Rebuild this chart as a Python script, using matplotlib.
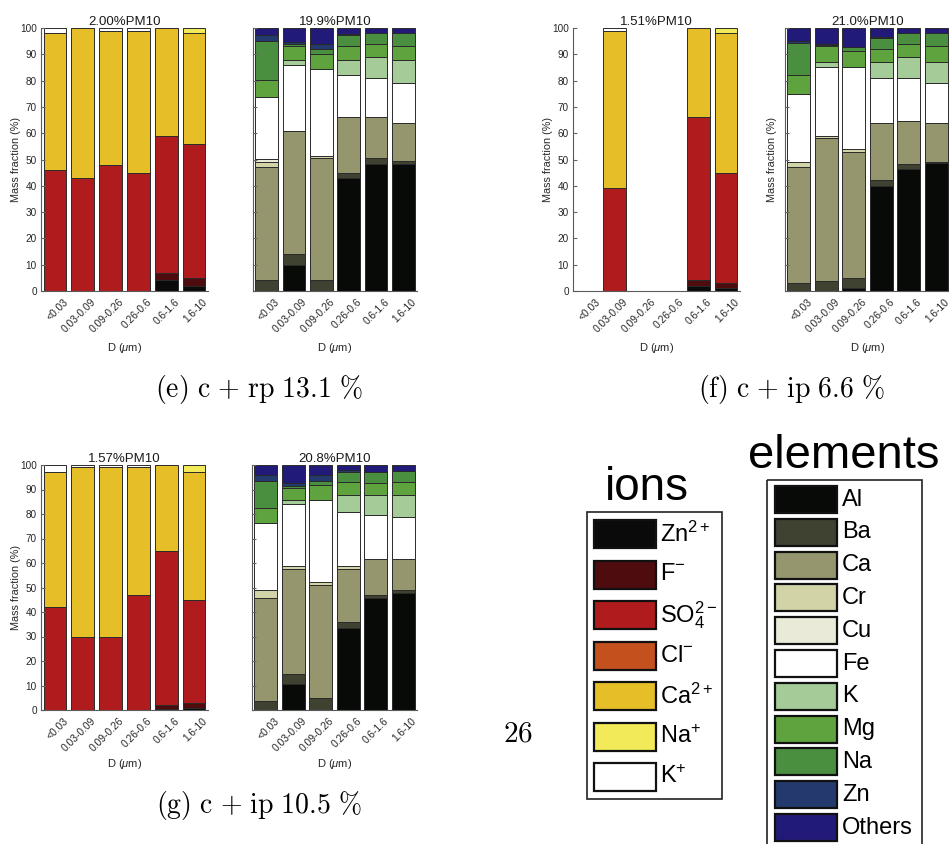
import numpy as np
import matplotlib
matplotlib.use('Agg')
import matplotlib.pyplot as plt
from matplotlib.patches import Rectangle
from matplotlib.transforms import ScaledTranslation

plt.rcParams['font.family'] = ['Liberation Sans', 'DejaVu Sans']
plt.rcParams['mathtext.fontset'] = 'custom'
plt.rcParams['mathtext.rm'] = 'Liberation Sans'
plt.rcParams['mathtext.it'] = 'Liberation Sans:italic'
plt.rcParams['mathtext.bf'] = 'Liberation Sans:bold'

W, H, DPI = 949, 844, 100

size_bins = ['<0.03', '0.03-0.09', '0.09-0.26', '0.26-0.6', '0.6-1.6', '1.6-10']

ion_names = ['Zn$^{2+}$', 'F$^{-}$', 'SO$_4^{2-}$', 'Cl$^{-}$', 'Ca$^{2+}$', 'Na$^{+}$', 'K$^{+}$']
ion_colors = ['#0a0a0a', '#4e0c0e', '#b01c1e', '#c4501e', '#e6bf28', '#f2ea58', '#ffffff']

element_names = ['Al', 'Ba', 'Ca', 'Cr', 'Cu', 'Fe', 'K', 'Mg', 'Na', 'Zn', 'Others']
element_colors = ['#080a08', '#3f4131', '#95966e', '#d2d4a8', '#e9ebd8', '#ffffff',
                  '#a4cb98', '#5ea33d', '#4a8f3f', '#243a6e', '#221a78']

# rows = species (bottom -> top), columns = size bins, mass fraction in %
ions_e = [
    [0, 0, 0, 0, 4, 2],
    [0, 0, 0, 0, 3, 3],
    [46, 43, 48, 45, 52, 51],
    [0, 0, 0, 0, 0, 0],
    [52, 57, 51, 54, 41, 42],
    [0, 0, 0, 0, 0, 2],
    [2, 0, 1, 1, 0, 0],
]
elements_e = [
    [0, 10, 0, 43, 48.4, 48.4],
    [4, 4, 4, 2, 2, 1],
    [43, 47, 46.5, 21, 15.8, 14.6],
    [2, 0, 0.8, 0, 0, 0],
    [1.3, 0, 0, 0, 0, 0],
    [23.5, 25, 33, 16, 14.8, 14.9],
    [0, 1.7, 0, 6, 8, 9.1],
    [6.3, 5.3, 6, 5.3, 5, 5.3],
    [14.8, 1, 1.6, 4, 4.2, 4.8],
    [2.3, 0.5, 2.1, 0.3, 0, 0],
    [2.8, 5.5, 6, 2.4, 1.8, 1.9],
]
ions_f = [
    [0, 0, 0, 0, 2, 1],
    [0, 0, 0, 0, 2, 2],
    [0, 39, 0, 0, 62, 42],
    [0, 0, 0, 0, 0, 0],
    [0, 60, 0, 0, 34, 53],
    [0, 0, 0, 0, 0, 2],
    [0, 1, 0, 0, 0, 0],
]
elements_f = [
    [0, 0, 1, 40, 46.2, 48.5],
    [3, 3.8, 3.8, 2.2, 1.9, 0.7],
    [44, 54.2, 48, 21.8, 16.6, 14.8],
    [2, 1, 1.3, 0, 0, 0],
    [0, 0, 0, 0, 0, 0],
    [26, 26.2, 31, 17.1, 16.3, 15.1],
    [0, 1.9, 0, 6, 8, 8],
    [7.2, 5.9, 6.3, 5.1, 5, 6.1],
    [12, 0.7, 1.5, 4, 4.1, 4.9],
    [1, 0.3, 0, 0.3, 0, 0],
    [4.8, 6, 7.1, 3.5, 1.9, 1.9],
]
ions_g = [
    [0, 0, 0, 0, 0.5, 1],
    [0, 0, 0, 0, 1.5, 2],
    [42, 30, 30, 47, 63, 42],
    [0, 0, 0, 0, 0, 0],
    [55, 69, 69, 52, 35, 52],
    [0, 0, 0, 0, 0, 3],
    [3, 1, 1, 1, 0, 0],
]
elements_g = [
    [0, 10.6, 0, 33.6, 45.9, 47.9],
    [3.7, 3.9, 4.7, 2.4, 0.9, 1.2],
    [42, 43.2, 46.5, 21.7, 14.9, 12.6],
    [3.1, 0.9, 1, 0.9, 0, 0],
    [0, 0, 0, 0, 0, 0],
    [27.6, 25.3, 33.6, 22.1, 17.9, 17],
    [0, 1.9, 0, 7.1, 8.2, 9.1],
    [6, 4.8, 6.1, 5.1, 4.9, 5.1],
    [11.2, 1, 1.7, 4.1, 4.3, 4.8],
    [2.3, 0.9, 2.3, 1, 0, 0],
    [4.1, 7.5, 4.1, 2, 3, 2.3],
]

pm10_titles = ['2.00%PM10', '19.9%PM10', '1.51%PM10', '21.0%PM10', '1.57%PM10', '20.8%PM10']
captions = [r'$\mathrm{(e)\ c\ {+}\ rp\ 13.1\ \%}$', r'$\mathrm{(f)\ c\ {+}\ ip\ 6.6\ \%}$',
            r'$\mathrm{(g)\ c\ {+}\ ip\ 10.5\ \%}$']

fig = plt.figure(figsize=(W / DPI, H / DPI), dpi=DPI)


def add_axes_px(left, top, right, bottom):
    return fig.add_axes([left / W, 1 - bottom / H, (right - left) / W, (bottom - top) / H])


def stacked(ax, table, colors, title, ylabel=None, ylab_x=-0.12, show_yticklabels=True):
    x = np.arange(1, len(size_bins) + 1)
    bottom = np.zeros(len(size_bins))
    for row, c in zip(table, colors):
        h = np.array(row, dtype=float)
        ax.bar(x, np.where(h > 0, h, np.nan), 0.82, bottom=bottom, color=c,
               edgecolor='#2a2a2a', linewidth=0.7)
        bottom += h
    ax.set_xlim(0.5, 6.5)
    ax.set_ylim(0, 100)
    ax.set_yticks(range(0, 101, 10))
    ax.set_xticks(x, size_bins)
    for s in ['top', 'right']:
        ax.spines[s].set_visible(False)
    for s in ['left', 'bottom']:
        ax.spines[s].set_color('#5a5a5a')
        ax.spines[s].set_linewidth(0.8)
    ax.tick_params(axis='y', direction='in', length=3, color='#666666', labelsize=7.2,
                   labelcolor='#262626', pad=3, labelleft=show_yticklabels)
    ax.tick_params(axis='x', length=0, labelsize=7.4, labelcolor='#262626', pad=4)
    shift = ScaledTranslation(8 / DPI, 0, fig.dpi_scale_trans)
    for lbl in ax.get_xticklabels():
        lbl.set_rotation(45)
        lbl.set_ha('right')
        lbl.set_va('top')
        lbl.set_rotation_mode('anchor')
        lbl.set_transform(lbl.get_transform() + shift)
    ax.set_title(title, fontsize=9.5, pad=1.5, color='#1a1a1a')
    ax.set_xlabel('D ($\\mu$m)', fontsize=8, color='#262626')
    ax.xaxis.set_label_coords(0.5, -0.19)
    if ylabel:
        ax.set_ylabel(ylabel, fontsize=7.8, color='#262626')
        ax.yaxis.set_label_coords(ylab_x, 0.5)


ax = add_axes_px(41, 28, 208, 291)
stacked(ax, ions_e, ion_colors, pm10_titles[0], 'Mass fraction (%)')
ax = add_axes_px(253, 28, 417, 291)
stacked(ax, elements_e, element_colors, pm10_titles[1], show_yticklabels=False)
ax = add_axes_px(573, 28, 740, 291)
stacked(ax, ions_f, ion_colors, pm10_titles[2], 'Mass fraction (%)')
ax = add_axes_px(785, 28, 950, 291)
stacked(ax, elements_f, element_colors, pm10_titles[3], 'Mass fraction (%)', ylab_x=-0.05,
        show_yticklabels=False)
ax = add_axes_px(41, 465, 208, 710)
stacked(ax, ions_g, ion_colors, pm10_titles[4], 'Mass fraction (%)')
ax = add_axes_px(252, 465, 417, 710)
stacked(ax, elements_g, element_colors, pm10_titles[5], show_yticklabels=False)

# overlay in pixel coordinates for captions and the two legends
ov = fig.add_axes([0, 0, 1, 1])
ov.set_xlim(0, W)
ov.set_ylim(H, 0)
ov.axis('off')
ov.patch.set_visible(False)

for (cx, cy), cap in zip([(259, 390), (791, 390), (259, 805)], captions):
    ov.text(cx, cy, cap, math_fontfamily='cm', fontsize=20, ha='center', va='center')
ov.text(518, 733, r'$\mathrm{26}$', math_fontfamily='cm', fontsize=21, ha='center', va='center')

# ions legend
ov.text(647, 500, 'ions', fontsize=33, ha='center', va='baseline')
ov.add_patch(Rectangle((587, 512), 135, 287, fill=False, ec='#222222', lw=1.2))
for i, (name, c) in enumerate(zip(ion_names, ion_colors)):
    yc = 534 + i * 40.5
    ov.add_patch(Rectangle((594, yc - 14), 62, 28, fc=c, ec='#111111', lw=1.6))
    ov.text(660, yc, name, fontsize=17, ha='left', va='center')

# elements legend
ov.text(844, 468, 'elements', fontsize=34, ha='center', va='baseline')
ov.add_patch(Rectangle((767, 480), 155, 400, fill=False, ec='#222222', lw=1.2, clip_on=False))
for i, (name, c) in enumerate(zip(element_names, element_colors)):
    yc = 499.5 + i * 32.8
    ov.add_patch(Rectangle((775, yc - 13.5), 62, 27, fc=c, ec='#111111', lw=1.6))
    ov.text(842, yc, name, fontsize=17, ha='left', va='center')

fig.savefig('out.png', dpi=DPI)
